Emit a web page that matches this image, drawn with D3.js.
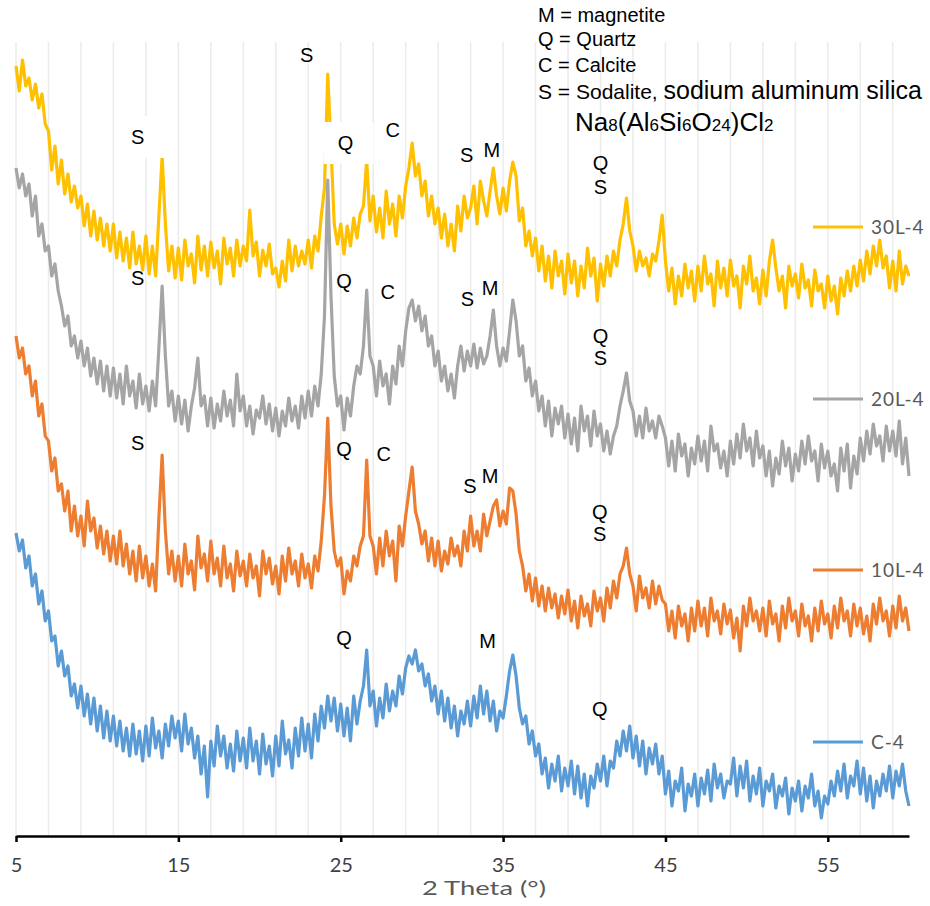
<!DOCTYPE html>
<html>
<head>
<meta charset="utf-8">
<script src="https://cdn.jsdelivr.net/npm/d3@7"></script>
<style>
  body { margin: 0; background: #fff; }
  svg { display: block; }
</style>
</head>
<body>
<div id="chart"></div>
<script>
// 2 theta grid of the scans (0.2 deg step)
const thetaStart = 5, thetaEnd = 60, thetaStep = 0.2;

const seriesNames = ['30L-4', '20L-4', '10L-4', 'C-4'];
const seriesColors = ['#FFC000', '#A5A5A5', '#ED7D31', '#5B9BD5'];
const xTicks = [5, 15, 25, 35, 45, 55];
const xGrid = [5, 7, 9, 11, 13, 15, 17, 19, 21, 23, 25, 27, 29, 31, 33, 35, 37, 39, 41, 43, 45, 47, 49, 51, 53, 55, 57, 59];

// intensities (offset, arbitrary units), one row = 2 deg
const int30L = [
  770, 745, 776, 750, 758, 736, 752, 728, 742, 712,
  705, 666, 690, 652, 676, 642, 662, 634, 650, 628,
  640, 610, 632, 600, 625, 596, 618, 590, 612, 585,
  612, 578, 604, 575, 598, 568, 604, 572, 590, 566,
  600, 562, 590, 560, 620, 680, 612, 565, 590, 558,
  588, 556, 596, 570, 582, 553, 600, 566, 590, 560,
  594, 568, 585, 552, 598, 572, 588, 560, 596, 570,
  590, 575, 626, 580, 594, 560, 586, 570, 592, 562,
  568, 549, 575, 555, 596, 565, 590, 570, 585, 572,
  596, 568, 600, 585, 620, 648, 762, 690, 612, 592,
  612, 582, 610, 590, 618, 598, 622, 630, 676, 615,
  640, 604, 628, 598, 645, 612, 632, 600, 640, 618,
  650, 668, 693, 660, 672, 640, 655, 620, 640, 612,
  628, 598, 622, 590, 612, 585, 630, 605, 640, 618,
  628, 650, 612, 655, 635, 620, 645, 668, 640, 622,
  648, 625, 655, 674, 660, 615, 628, 590, 605, 580,
  598, 565, 590, 555, 580, 548, 585, 560, 575, 542,
  582, 553, 575, 540, 570, 548, 588, 560, 578, 535,
  572, 550, 580, 560, 585, 570, 596, 612, 638, 605,
  590, 565, 585, 570, 578, 560, 582, 575, 595, 621,
  575, 545, 568, 532, 560, 540, 572, 548, 565, 535,
  570, 545, 580, 552, 562, 530, 575, 548, 568, 540,
  576, 550, 560, 528, 570, 552, 580, 545, 558, 532,
  566, 540, 575, 596, 568, 545, 560, 528, 570, 550,
  562, 538, 572, 548, 556, 530, 566, 545, 552, 528,
  560, 535, 550, 522, 558, 540, 565, 545, 570, 550,
  576, 555, 585, 562, 590, 570, 596, 568, 580, 548,
  575, 545, 585, 552, 570, 560
];
const int20L = [
  668, 648, 662, 640, 652, 620, 640, 600, 612, 585,
  590, 560, 572, 545, 530, 510, 520, 490, 500, 478,
  495, 470, 488, 460, 478, 452, 475, 445, 470, 440,
  468, 438, 462, 432, 470, 440, 455, 428, 462, 432,
  450, 425, 455, 430, 488, 550, 480, 430, 445, 415,
  440, 412, 436, 405, 430, 448, 478, 430, 440, 410,
  438, 408, 432, 415, 445, 420, 436, 410, 462, 425,
  440, 410, 430, 402, 426, 418, 440, 412, 432, 405,
  428, 400, 425, 410, 438, 415, 430, 408, 440, 418,
  445, 420, 450, 430, 462, 520, 656, 540, 460, 430,
  440, 406, 438, 420, 450, 470, 462, 490, 546, 480,
  470, 440, 475, 450, 462, 432, 470, 452, 490, 470,
  505, 528, 536, 515, 530, 505, 520, 490, 500, 470,
  485, 455, 470, 445, 462, 438, 470, 490, 465, 485,
  470, 492, 468, 488, 472, 480, 500, 526, 490, 470,
  488, 475, 505, 536, 515, 480, 490, 455, 468, 440,
  455, 425, 440, 410, 435, 400, 428, 412, 430, 398,
  422, 392, 418, 385, 430, 405, 420, 390, 425, 400,
  412, 385, 405, 382, 400, 410, 430, 445, 463, 435,
  425, 400, 420, 398, 428, 405, 415, 398, 420, 410,
  398, 370, 395, 365, 402, 380, 392, 360, 388, 372,
  400, 375, 395, 365, 410, 385, 392, 368, 385, 360,
  395, 372, 402, 378, 412, 385, 398, 370, 405, 378,
  390, 360, 385, 350, 378, 362, 395, 370, 388, 355,
  382, 365, 395, 372, 400, 375, 385, 355, 392, 368,
  385, 360, 372, 345, 388, 365, 392, 348, 380, 362,
  398, 375, 405, 382, 412, 390, 400, 375, 410, 385,
  405, 380, 415, 372, 398, 360
];
const int10L = [
  500, 478, 488, 462, 470, 440, 455, 420, 432, 400,
  395, 365, 378, 345, 352, 325, 345, 305, 330, 300,
  320, 290, 335, 305, 318, 288, 310, 282, 305, 275,
  300, 272, 305, 270, 292, 262, 285, 255, 290, 258,
  280, 250, 272, 245, 318, 381, 305, 262, 285, 255,
  280, 250, 292, 262, 275, 246, 300, 268, 282, 255,
  295, 262, 278, 250, 290, 258, 272, 245, 285, 260,
  275, 250, 282, 258, 270, 240, 285, 262, 278, 252,
  270, 242, 280, 255, 288, 262, 275, 250, 282, 258,
  272, 248, 280, 265, 295, 340, 418, 330, 285, 270,
  278, 242, 265, 255, 280, 270, 290, 300, 376, 300,
  290, 262, 298, 270, 305, 280, 295, 255, 310, 290,
  320, 345, 369, 325, 312, 292, 305, 275, 298, 270,
  295, 265, 285, 272, 298, 280, 290, 270, 305, 285,
  320, 290, 305, 285, 322, 300, 315, 330, 336, 310,
  325, 312, 348, 345, 322, 285, 270, 245, 262, 235,
  258, 230, 250, 225, 248, 228, 242, 218, 240, 222,
  246, 215, 235, 208, 240, 220, 232, 210, 245, 225,
  238, 215, 248, 228, 255, 238, 262, 270, 288, 262,
  250, 225, 260, 238, 248, 228, 255, 232, 250, 236,
  232, 205, 225, 198, 230, 210, 222, 195, 228, 205,
  235, 210, 228, 200, 238, 215, 225, 202, 232, 212,
  226, 198, 218, 185, 230, 210, 238, 215, 225, 205,
  228, 200, 235, 212, 222, 195, 230, 208, 238, 215,
  225, 200, 232, 210, 220, 195, 228, 205, 235, 212,
  222, 198, 230, 208, 238, 215, 225, 200, 232, 210,
  228, 202, 220, 195, 232, 212, 238, 215, 225, 200,
  230, 208, 240, 215, 228, 205
];
const intC = [
  303, 285, 296, 268, 280, 250, 262, 232, 245, 215,
  225, 195, 200, 170, 185, 160, 170, 140, 152, 128,
  150, 120, 142, 112, 138, 105, 130, 98, 125, 95,
  120, 90, 115, 85, 108, 80, 112, 82, 105, 75,
  110, 80, 118, 88, 105, 78, 112, 90, 120, 98,
  115, 85, 122, 92, 108, 78, 100, 62, 90, 39,
  95, 70, 110, 80, 100, 68, 92, 65, 105, 75,
  98, 68, 108, 75, 95, 62, 102, 72, 90, 60,
  100, 70, 115, 82, 96, 68, 108, 80, 118, 85,
  112, 78, 122, 95, 130, 108, 140, 115, 138, 105,
  132, 100, 128, 95, 140, 112, 135, 150, 186, 130,
  145, 110, 138, 118, 152, 125, 145, 130, 160, 142,
  168, 180, 172, 186, 165, 172, 150, 162, 135, 150,
  122, 145, 115, 138, 108, 130, 100, 125, 112, 135,
  110, 140, 118, 150, 122, 145, 115, 135, 105, 125,
  118, 140, 165, 181, 160, 128, 112, 120, 92, 105,
  80, 92, 62, 78, 48, 72, 55, 80, 45, 68,
  50, 75, 42, 70, 38, 62, 30, 60, 48, 72,
  55, 80, 50, 75, 68, 95, 80, 105, 85, 110,
  78, 100, 70, 95, 62, 88, 72, 92, 62, 80,
  42, 65, 30, 55, 45, 68, 25, 52, 40, 62,
  30, 58, 42, 66, 35, 72, 48, 62, 38, 55,
  52, 78, 40, 70, 48, 75, 35, 60, 42, 68,
  30, 55, 45, 62, 28, 50, 40, 58, 22, 48,
  35, 55, 25, 50, 38, 62, 30, 45, 18, 40,
  32, 55, 40, 65, 45, 72, 38, 60, 50, 75,
  42, 68, 35, 60, 28, 55, 40, 62, 45, 70,
  38, 65, 50, 72, 45, 30
];

// phase labels: [text, 2theta, intensity, white box]
const peakLabels = [
  ['S', 12.5, 699, true], ['S', 22.9, 781, false], ['Q', 25.3, 693, true], ['C', 28.2, 706, false],
  ['S', 32.75, 681, false], ['M', 34.3, 686, false], ['Q', 41.0, 673, false], ['S', 41.0, 649, false],
  ['S', 12.5, 558, false], ['Q', 25.2, 555, false], ['C', 27.9, 544, false], ['S', 32.8, 537, false],
  ['M', 34.2, 548, false], ['Q', 41.0, 500, false], ['S', 41.0, 478, false],
  ['S', 12.5, 393, false], ['Q', 25.2, 387, false], ['C', 27.65, 382, false], ['S', 32.95, 350, false],
  ['M', 34.2, 360, false], ['Q', 40.95, 324, false], ['S', 40.95, 302, false],
  ['Q', 25.2, 198, false], ['M', 34.05, 195, false], ['Q', 40.95, 127, false]
];

const allSeries = [int30L, int20L, int10L, intC];
const theta = d3.range(0, Math.round((thetaEnd - thetaStart) / thetaStep) + 1)
  .map(i => +(thetaStart + i * thetaStep).toFixed(2));

const width = 930, height = 906;

const svg = d3.select('#chart')
  .append('svg')
    .attr('width', width)
    .attr('height', height);

const x = d3.scaleLinear().domain([thetaStart, thetaEnd]).range([16, 909]);
const y = d3.scaleLinear().domain([0, 800]).range([836, 36]);

// vertical gridlines
svg.append('g')
  .selectAll('line')
  .data(xGrid)
  .enter()
  .append('line')
    .attr('x1', d => x(d))
    .attr('x2', d => x(d))
    .attr('y1', 42)
    .attr('y2', 836)
    .attr('stroke', '#ebebeb')
    .attr('stroke-width', 1.5);

// key text, top right
const key = svg.append('g')
  .attr('font-family', '"Liberation Sans", Arial, sans-serif')
  .attr('fill', '#000');

key.append('text').attr('x', 538).attr('y', 22).attr('font-size', 20).text('M = magnetite');
key.append('text').attr('x', 538).attr('y', 46).attr('font-size', 20).text('Q = Quartz');
key.append('text').attr('x', 538).attr('y', 72).attr('font-size', 20).text('C = Calcite');
const sLine = key.append('text').attr('x', 538).attr('y', 99);
sLine.append('tspan').attr('font-size', 21).text('S = Sodalite, ');
sLine.append('tspan').attr('font-size', 25).text('sodium aluminum silica');

const formula = key.append('text').attr('x', 575).attr('y', 131).attr('font-size', 26);
[['Na', false], ['8', true], ['(Al', false], ['6', true], ['Si', false], ['6', true],
 ['O', false], ['24', true], [')Cl', false], ['2', true]].forEach(([t, sub]) => {
  formula.append('tspan')
    .attr('font-size', sub ? 17 : 26)
    .text(t);
});

// lines
const line = d3.line()
  .x((d, i) => x(theta[i]))
  .y(d => y(d));

svg.append('g')
  .selectAll('path')
  .data(allSeries)
  .enter()
  .append('path')
    .attr('d', d => line(d))
    .attr('fill', 'none')
    .attr('stroke', (d, i) => seriesColors[i])
    .attr('stroke-width', 3.2)
    .attr('stroke-linejoin', 'round');

// x axis
const xAxis = svg.append('g')
  .attr('transform', 'translate(0,836)')
  .call(d3.axisBottom(x).tickValues(xTicks).tickSize(6).tickSizeOuter(0).tickPadding(16).tickFormat(d3.format('d')));

xAxis.select('.domain').attr('stroke', '#000').attr('stroke-width', 2.5);
xAxis.selectAll('.tick line').attr('stroke', '#000').attr('stroke-width', 2.5);
xAxis.selectAll('.tick text')
  .attr('font-family', 'Lato, "Open Sans", sans-serif')
  .attr('font-size', 20)
  .attr('fill', '#404040');

svg.append('text')
  .attr('x', 484)
  .attr('y', 895)
  .attr('text-anchor', 'middle')
  .attr('font-family', 'Lato, "Open Sans", sans-serif')
  .attr('font-size', 20)
  .attr('textLength', 124)
  .attr('lengthAdjust', 'spacingAndGlyphs')
  .attr('fill', '#595959')
  .text('2 Theta (°)');

// phase labels
const labels = svg.append('g')
  .attr('font-family', '"Liberation Sans", Arial, sans-serif')
  .attr('font-size', 20);

labels.selectAll('rect')
  .data(peakLabels.filter(d => d[3]))
  .enter()
  .append('rect')
    .attr('x', d => x(d[1]) - 22)
    .attr('y', d => y(d[2]) - 21)
    .attr('width', 50)
    .attr('height', 42)
    .attr('fill', '#fff');

labels.selectAll('text')
  .data(peakLabels)
  .enter()
  .append('text')
    .attr('x', d => x(d[1]))
    .attr('y', d => y(d[2]))
    .attr('dy', '0.36em')
    .attr('text-anchor', 'middle')
    .text(d => d[0]);

// legend
const legend = svg.append('g')
  .selectAll('g')
  .data(seriesNames)
  .enter()
  .append('g')
    .attr('transform', (d, i) => `translate(813,${[227, 399, 570, 742][i]})`);

legend.append('line')
  .attr('x1', 0)
  .attr('x2', 50)
  .attr('stroke', (d, i) => seriesColors[i])
  .attr('stroke-width', 3);

legend.append('text')
  .attr('x', 58)
  .attr('dy', '0.35em')
  .attr('font-family', 'Lato, "Open Sans", sans-serif')
  .attr('font-size', 19)
  .attr('letter-spacing', 1)
  .attr('fill', '#595959')
  .text(d => d);
</script>
</body>
</html>
